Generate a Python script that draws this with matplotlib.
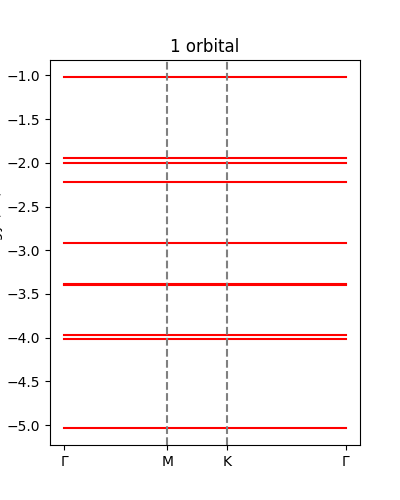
import numpy as np
import matplotlib
matplotlib.use("Agg")
import matplotlib.pyplot as plt

# high-symmetry path of the hexagonal Brillouin zone (units of 2pi/a)
k_labels = ["Γ", "M", "K", "Γ"]
k_ticks = [0.0, 1 / np.sqrt(3), 1 / np.sqrt(3) + 1 / 3, 1 / np.sqrt(3) + 1.0]

# flat band energies (eV)
bands = [-1.023, -1.944, -2.002, -2.219, -2.922, -3.390, -3.400,
         -3.973, -4.019, -5.028]

fig, ax = plt.subplots(figsize=(4, 5), dpi=100)

for e in bands:
    ax.plot(k_ticks, [e] * len(k_ticks), color="red")

for k in k_ticks[1:-1]:
    ax.axvline(k, color="gray", linestyle="--")

ax.set_xticks(k_ticks)
ax.set_xticklabels(k_labels)
ax.set_title("1 orbital")
ax.set_ylabel("Energy (eV)")
ax.yaxis.set_label_coords(-0.152, 0.556)

fig.savefig("out.png", dpi=100)
